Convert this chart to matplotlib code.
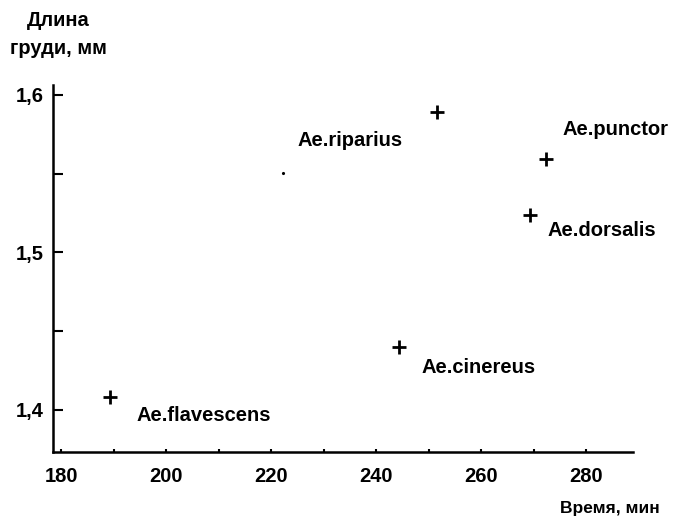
import matplotlib
matplotlib.use("Agg")
import matplotlib.pyplot as plt
from matplotlib.ticker import MultipleLocator, FixedLocator

# values
species = ["Ae.flavescens", "Ae.riparius", "Ae.punctor", "Ae.dorsalis", "Ae.cinereus"]
time_min = [189.2, 251.5, 272.3, 269.2, 244.3]
chest_mm = [1.408, 1.589, 1.559, 1.524, 1.440]
stray_x = [222.2]
stray_y = [1.5505]
x_ticks = [180, 200, 220, 240, 260, 280]
y_ticks = [1.4, 1.5, 1.6]
y_labels = ["1,4", "1,5", "1,6"]

# label offsets in pixels from each point
offsets = [(27, -18), (-139, -28), (17, 30), (18, -16), (23, -21)]

plt.rcParams["font.family"] = ["Liberation Sans", "DejaVu Sans"]
plt.rcParams["font.weight"] = "bold"

fig = plt.figure(figsize=(6.75, 5.24), dpi=100)
ax = fig.add_axes([0.0785, 0.1374, 0.8593, 0.7004])

ax.plot(time_min, chest_mm, "+", color="black", markersize=10, markeredgewidth=2)
ax.plot(stray_x, stray_y, ".", color="black", markersize=2.5)

for name, x, y, (dx, dy) in zip(species, time_min, chest_mm, offsets):
    ax.annotate(name, (x, y), xytext=(dx, dy), textcoords="offset pixels",
                ha="left", va="center", fontsize=14.5, fontweight="bold")

ax.set_xlim(178.4, 288.9)
ax.set_ylim(1.3733, 1.6063)

ax.set_xticks(x_ticks)
ax.xaxis.set_minor_locator(MultipleLocator(10))
ax.set_yticks(y_ticks)
ax.set_yticklabels(y_labels)
ax.yaxis.set_minor_locator(FixedLocator([1.45, 1.55]))

ax.tick_params(axis="y", which="both", direction="in", length=7, width=1.5,
               pad=7, labelsize=14.5)
ax.tick_params(axis="x", which="both", direction="in", length=2, width=1.5,
               pad=11, labelsize=14.5)

for side in ["top", "right"]:
    ax.spines[side].set_visible(False)
for side in ["left", "bottom"]:
    ax.spines[side].set_linewidth(1.8)

fig.text(58 / 675, 1 - 21 / 524, "Длина", ha="center", va="center",
         fontsize=14.5, fontweight="bold")
fig.text(58 / 675, 1 - 49 / 524, "груди, мм", ha="center", va="center",
         fontsize=14.5, fontweight="bold")
fig.text(660 / 675, 1 - 508 / 524, "Время, мин", ha="right", va="center",
         fontsize=12.5, fontweight="bold")

fig.savefig("out.png", dpi=100)
